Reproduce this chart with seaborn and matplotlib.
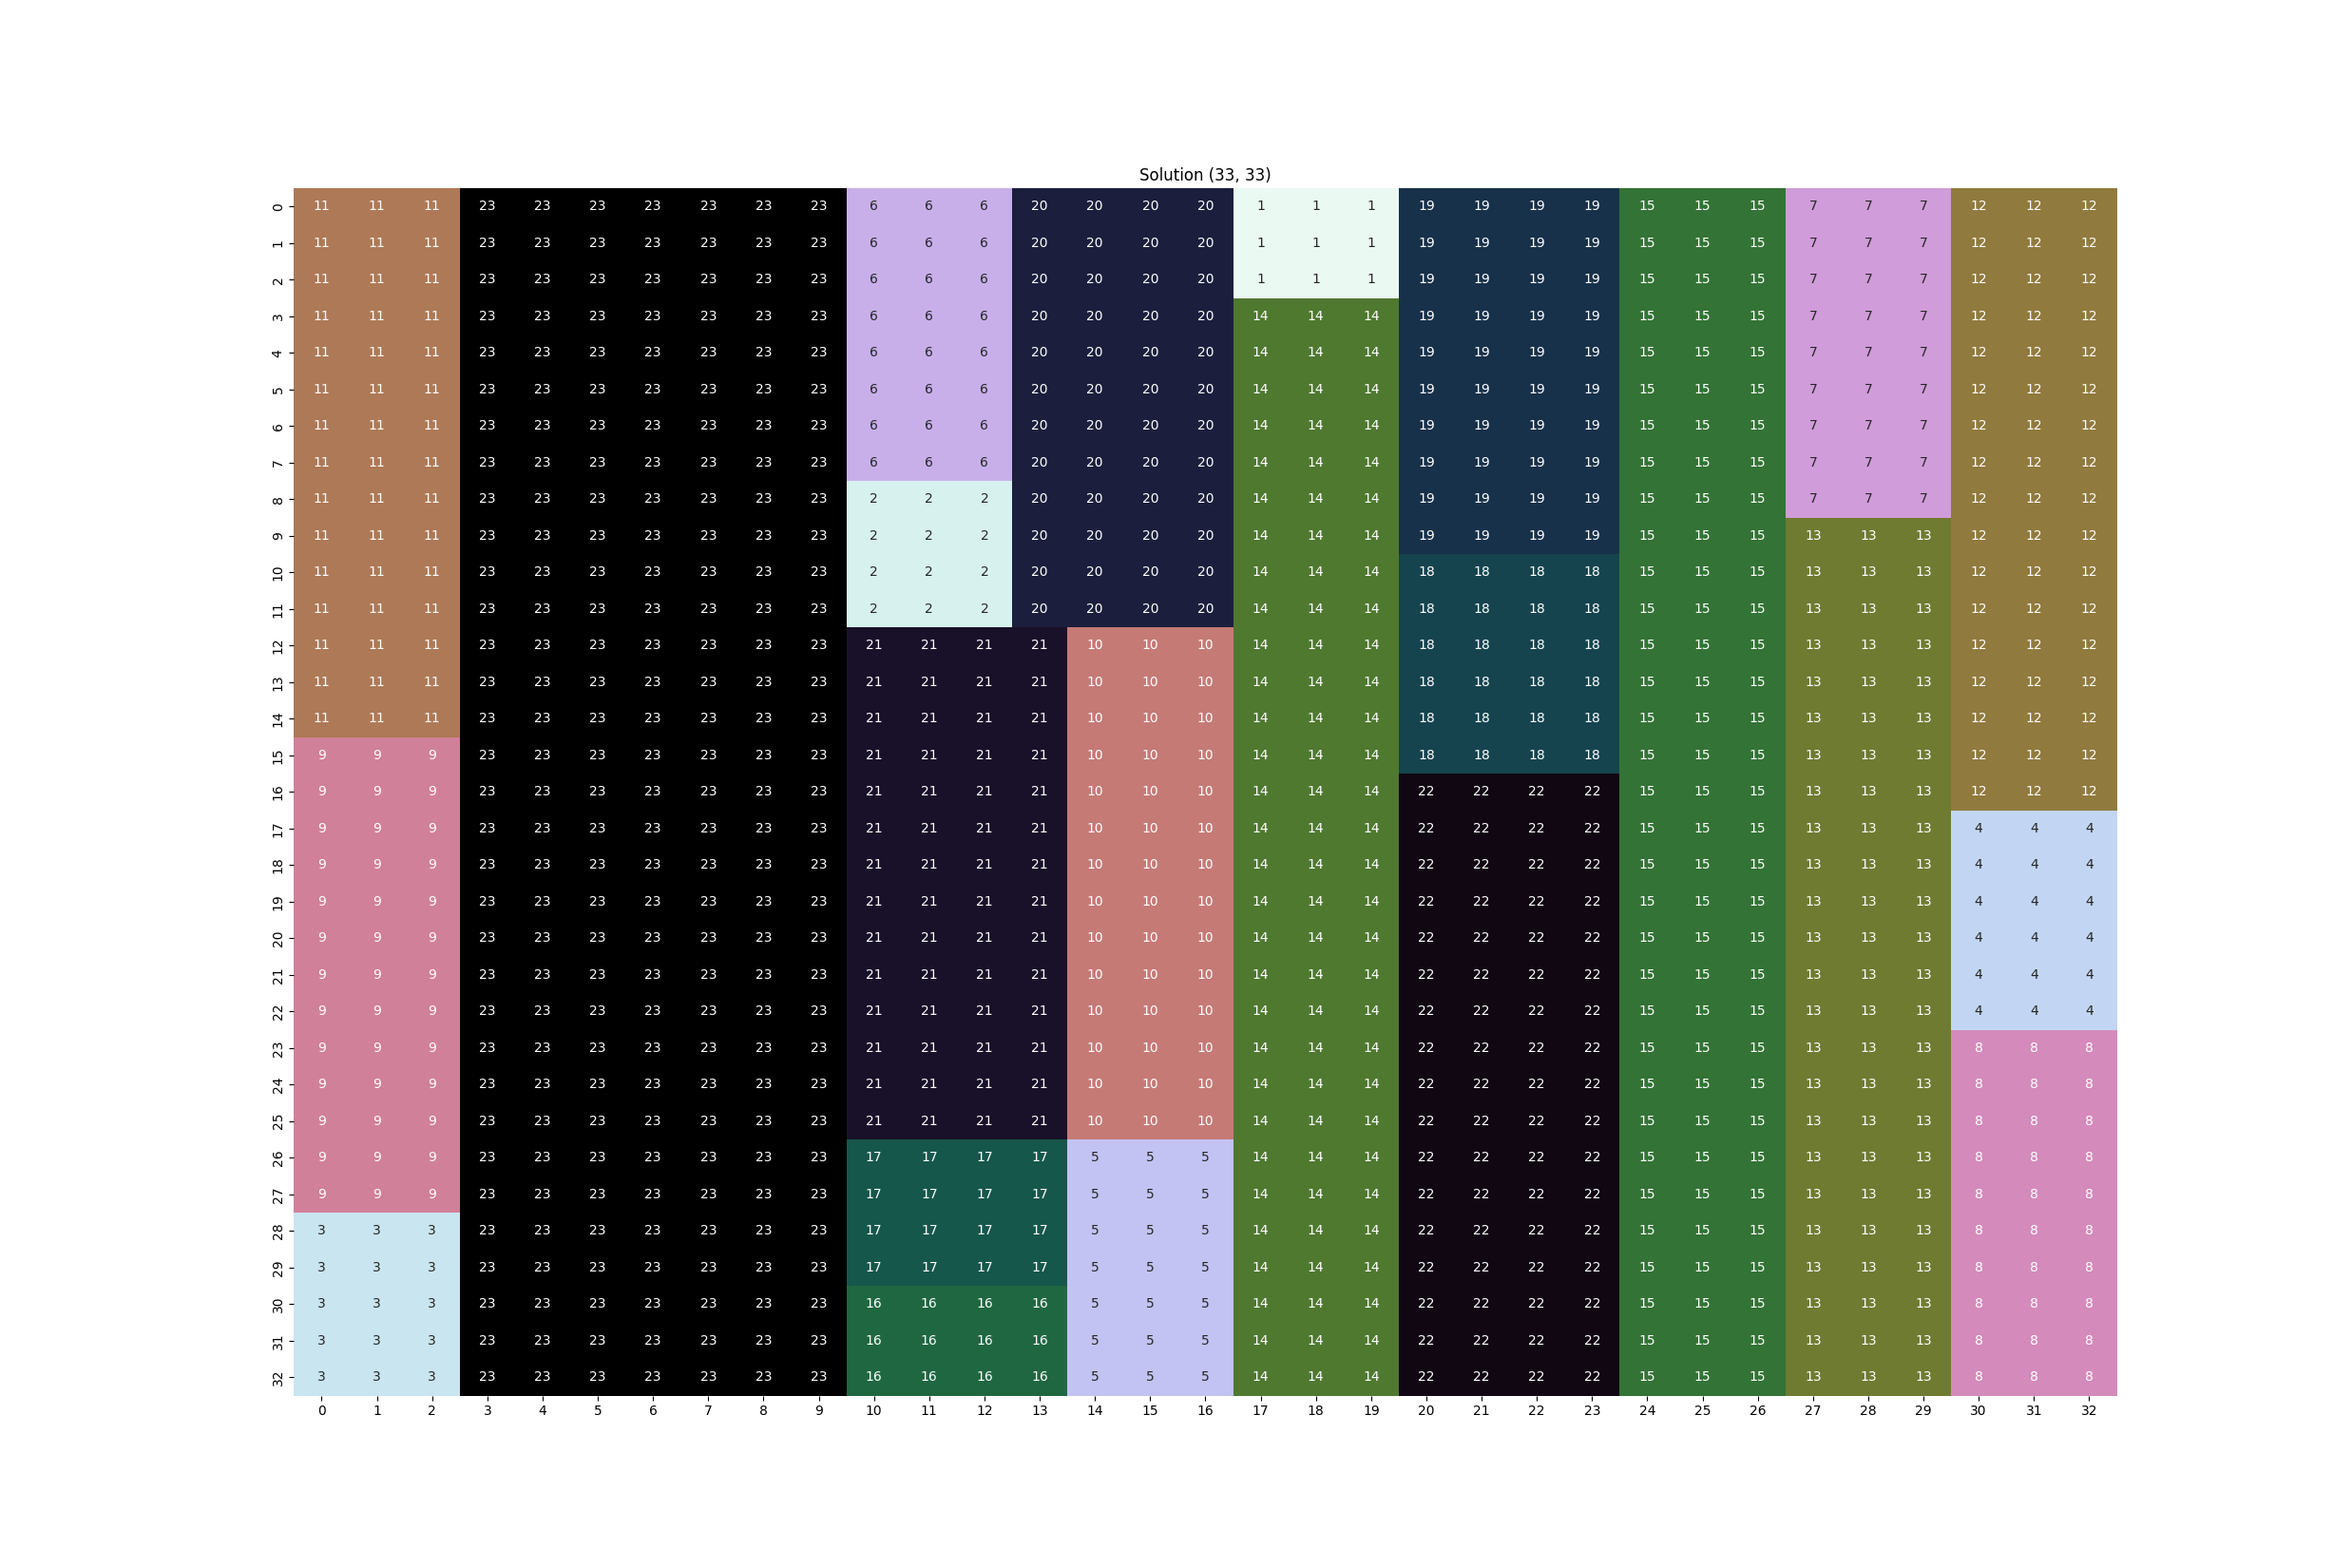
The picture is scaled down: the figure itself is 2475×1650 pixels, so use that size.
import numpy as np
import matplotlib
matplotlib.use("Agg")
import matplotlib.pyplot as plt
import seaborn as sns

# grid is 33 x 33, built from vertical strips of columns
n_rows = 33
n_cols = 33

# each strip: number of columns, then (region id, number of rows) top to bottom
strip_widths = [3, 7, 3, 1, 3, 3, 4, 3, 3, 3]
strip_regions = [
    [(11, 15), (9, 13), (3, 5)],
    [(23, 33)],
    [(6, 8), (2, 4), (21, 14), (17, 4), (16, 3)],
    [(20, 12), (21, 14), (17, 4), (16, 3)],
    [(20, 12), (10, 14), (5, 7)],
    [(1, 3), (14, 30)],
    [(19, 10), (18, 6), (22, 17)],
    [(15, 33)],
    [(7, 9), (13, 24)],
    [(12, 17), (4, 6), (8, 10)],
]

grid = np.zeros((n_rows, n_cols), dtype=int)
col = 0
for width, segments in zip(strip_widths, strip_regions):
    row = 0
    for region, length in segments:
        grid[row:row + length, col:col + width] = region
        row += length
    col += width

fig = plt.figure(figsize=(24.75, 16.5), dpi=100)
ax = sns.heatmap(grid, annot=True, fmt="d", cmap="cubehelix_r", cbar=False,
                 vmin=0, annot_kws={"fontsize": 10})
ax.set_title("Solution (33, 33)", fontsize=12)
ax.tick_params(labelsize=10)
plt.savefig("out.png", dpi=100)
